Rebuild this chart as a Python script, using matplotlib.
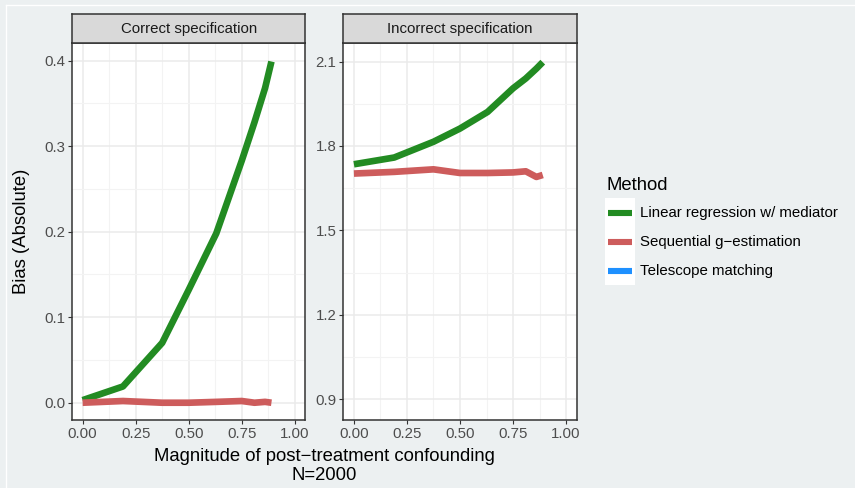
import numpy as np
import matplotlib

matplotlib.use('Agg')
import matplotlib.pyplot as plt
from matplotlib.lines import Line2D
from matplotlib.patches import Rectangle

plt.rcParams['font.family'] = ['Liberation Sans', 'DejaVu Sans']

# data
magnitude = [0.0, 0.19, 0.375, 0.5, 0.63, 0.75, 0.81, 0.86, 0.89]
panels = ['Correct specification', 'Incorrect specification']
methods = ['Linear regression w/ mediator', 'Sequential g\u2212estimation', 'Telescope matching']
colors = ['#228B22', '#CD5C5C', '#1E90FF']

linreg_correct = [0.003, 0.019, 0.070, 0.132, 0.198, 0.283, 0.328, 0.368, 0.399]
seqg_correct = [0.000, 0.002, 0.000, 0.000, 0.001, 0.002, 0.000, 0.001, 0.000]
linreg_incorrect = [1.735, 1.759, 1.815, 1.862, 1.921, 2.005, 2.040, 2.075, 2.098]
seqg_incorrect = [1.702, 1.708, 1.717, 1.704, 1.704, 1.706, 1.710, 1.690, 1.697]

series = {
    panels[0]: {methods[0]: linreg_correct, methods[1]: seqg_correct},
    panels[1]: {methods[0]: linreg_incorrect, methods[1]: seqg_incorrect},
}
yticks = {panels[0]: [0.0, 0.1, 0.2, 0.3, 0.4], panels[1]: [0.9, 1.2, 1.5, 1.8, 2.1]}
ylims = {panels[0]: (-0.0202, 0.4203), panels[1]: (0.826, 2.165)}
xticks = [0.0, 0.25, 0.5, 0.75, 1.0]

W, H = 855, 488
bg = '#ECF0F1'
fig = plt.figure(figsize=(W / 100, H / 100), dpi=100, facecolor=bg)

# faint white frame edge at top/left
fig.add_artist(Line2D([6 / W, 1], [1 - 5 / H, 1 - 5 / H], transform=fig.transFigure, color='white', lw=1))
fig.add_artist(Line2D([6 / W, 6 / W], [0, 1 - 5 / H], transform=fig.transFigure, color='white', lw=1))

lefts = [72, 343.3]
top, bottom, strip_top = 43.3, 420, 14.3
pw = 233.4
small = 10.8
big = 13.3
lw = 4.8
for left, name in zip(lefts, panels):
    ax = fig.add_axes([left / W, 1 - bottom / H, pw / W, (bottom - top) / H])
    ax.set_facecolor('white')
    for m, c in zip(methods, colors):
        if m in series[name]:
            ax.plot(magnitude, series[name][m], color=c, lw=lw, solid_capstyle='butt', zorder=3)
    ax.set_xlim(-0.05, 1.05)
    ax.set_ylim(*ylims[name])
    ax.set_xticks(xticks)
    ax.set_xticklabels(['%.2f' % t for t in xticks])
    ax.set_yticks(yticks[name])
    ax.set_yticklabels(['%.1f' % t for t in yticks[name]])
    ax.set_xticks([0.125, 0.375, 0.625, 0.875], minor=True)
    yt = yticks[name]
    step = yt[1] - yt[0]
    ax.set_yticks([t + step / 2 for t in yt[:-1]], minor=True)
    ax.grid(True, which='major', color='#EBEBEB', lw=1.1, zorder=0)
    ax.grid(True, which='minor', color='#F3F3F3', lw=0.8, zorder=0)
    ax.set_axisbelow(True)
    ax.tick_params(which='major', length=3, width=0.8, color='#333333', labelcolor='#4D4D4D',
                   labelsize=small, pad=2)
    ax.tick_params(which='minor', length=0)
    for s in ax.spines.values():
        s.set_color('#333333')
        s.set_linewidth(1.1)

    # facet strip
    sax = fig.add_axes([left / W, 1 - top / H, pw / W, (top - strip_top) / H])
    sax.set_facecolor('#D9D9D9')
    sax.set_xticks([])
    sax.set_yticks([])
    for s in sax.spines.values():
        s.set_color('#333333')
        s.set_linewidth(1.1)
    sax.text(0.5, 0.5, name, ha='center', va='center', fontsize=small, color='#1A1A1A',
             transform=sax.transAxes)

fig.text(22 / W, 1 - 231 / H, 'Bias (Absolute)', rotation=90, ha='center', va='center', fontsize=big)
fig.text(324 / W, 1 - 466 / H, 'Magnitude of post\u2212treatment confounding\nN=2000',
         ha='center', va='center', fontsize=big, linespacing=1.08)

# legend
fig.text(606 / W, 1 - 185 / H, 'Method', ha='left', va='center', fontsize=big)
fig.add_artist(Rectangle((605 / W, 1 - 285 / H), 30 / W, 87 / H, transform=fig.transFigure,
                         facecolor='white', edgecolor='none'))
for i, (m, c) in enumerate(zip(methods, colors)):
    y = 1 - (212.5 + i * 29.3) / H
    fig.add_artist(Line2D([608 / W, 632 / W], [y, y], transform=fig.transFigure, color=c, lw=4.4,
                          solid_capstyle='butt'))
    fig.text(640 / W, y, m, ha='left', va='center', fontsize=small)

fig.savefig('out.png', dpi=100, facecolor=bg)
